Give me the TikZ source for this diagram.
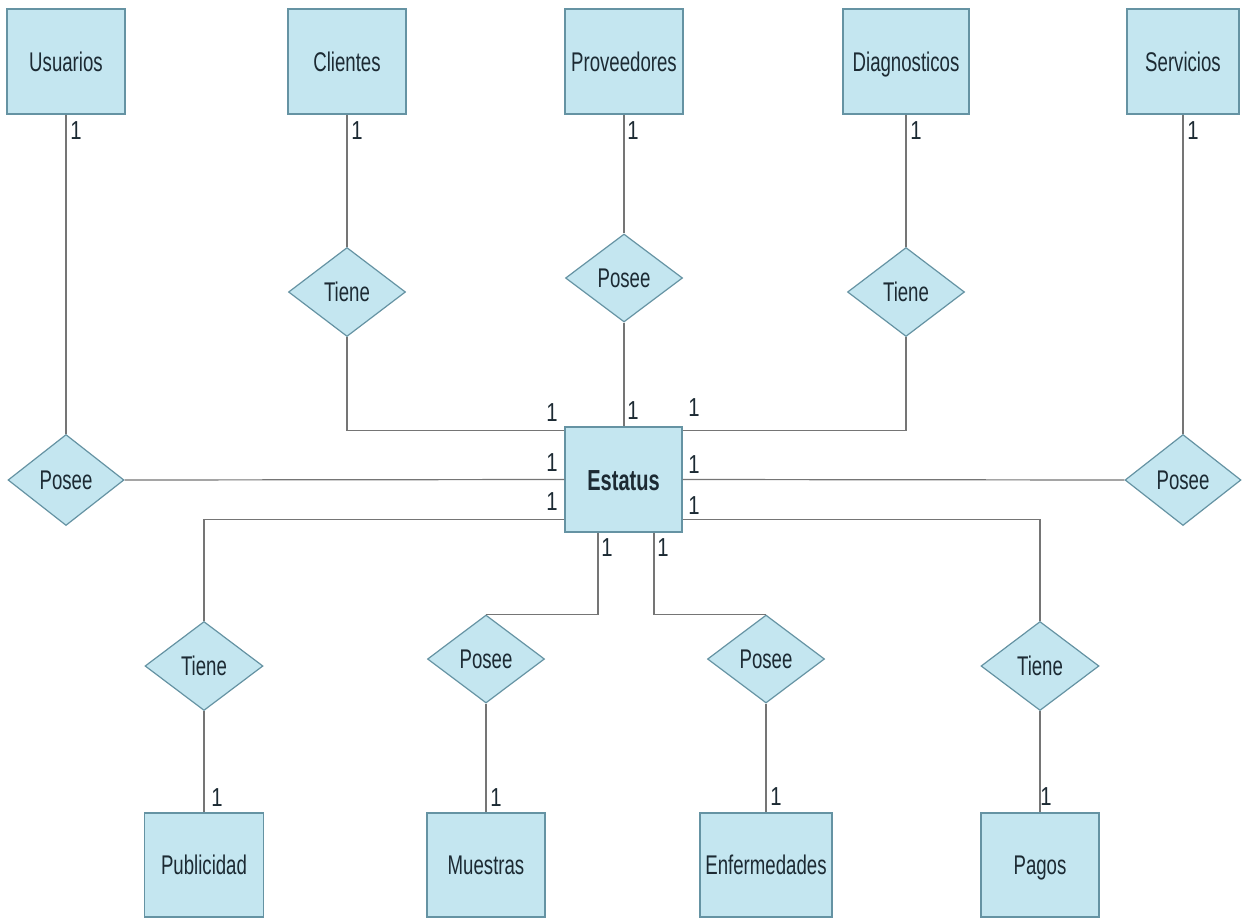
\documentclass[tikz,border=0pt]{standalone}
\usepackage{fontspec}
\setmainfont[FakeStretch=0.69]{Liberation Sans}
\newfontfamily\cardfont[FakeStretch=0.78]{Liberation Sans}
\usetikzlibrary{shapes.geometric}
\definecolor{boxfill}{HTML}{C4E6F0}
\definecolor{boxline}{HTML}{6593A3}
\definecolor{linkgray}{HTML}{757575}
\definecolor{inkdark}{HTML}{1C2A33}
\tikzset{
  entity/.style={draw=boxline, fill=boxfill, line width=1.2pt, rectangle,
    minimum height=105pt, inner sep=0pt, text=inkdark,
    text height=19.5pt, text depth=0pt,
    font=\fontsize{27}{32}\selectfont},
  relation/.style={draw=boxline, fill=boxfill, line width=1.2pt, diamond,
    minimum width=117pt, minimum height=89pt, inner sep=0pt, text=inkdark,
    text height=19.5pt, text depth=0pt,
    font=\fontsize{27}{32}\selectfont},
  link/.style={draw=linkgray, line width=1.2pt},
  card/.style={inner sep=0pt, text=inkdark, font=\cardfont\fontsize{26}{30}\selectfont}
}
\begin{document}
\begin{tikzpicture}[x=1pt, y=-1pt]
\useasboundingbox[fill=white] (0,0) rectangle (1247,918);

% entities along the top
\node[entity, minimum width=118pt] (usu) at (66,61.5) {Usuarios};
\node[entity, minimum width=118pt] (cli) at (347,61.5) {Clientes};
\node[entity, minimum width=118pt] (pro) at (624,61.5) {Proveedores};
\node[entity, minimum width=126pt] (dia) at (906,61.5) {Diagnosticos};
\node[entity, minimum width=112pt] (ser) at (1183,61.5) {Servicios};

% central entity
\node[entity, minimum width=117pt, text height=21pt,
      font=\fontsize{29}{34}\selectfont\bfseries] (est) at (623.5,479.5) {Estatus};

% relations
\node[relation] (tcli) at (347,292) {Tiene};
\node[relation, minimum height=88pt] (ppro) at (624,278) {Posee};
\node[relation] (tdia) at (906,292) {Tiene};
\node[relation, minimum width=116pt, minimum height=91pt] (posL) at (66,480) {Posee};
\node[relation, minimum width=116pt, minimum height=91pt] (posR) at (1183,480) {Posee};
\node[relation, minimum width=118pt] (tpub) at (204,666) {Tiene};
\node[relation, minimum height=88pt] (pmue) at (486,659) {Posee};
\node[relation, minimum height=88pt] (penf) at (766,659) {Posee};
\node[relation, minimum width=118pt] (tpag) at (1040,666) {Tiene};

% entities along the bottom
\node[entity, minimum width=119pt, minimum height=104pt] (pub) at (204,865) {Publicidad};
\node[entity, minimum width=118pt, minimum height=104pt] (mue) at (486,865) {Muestras};
\node[entity, minimum width=132pt, minimum height=104pt] (enf) at (766,865) {Enfermedades};
\node[entity, minimum width=118pt, minimum height=104pt] (pag) at (1040,865) {Pagos};

% connectors
\draw[link] (usu.south) -- (posL.north);
\draw[link] (cli.south) -- (tcli.north);
\draw[link] (pro.south) -- (ppro.north);
\draw[link] (dia.south) -- (tdia.north);
\draw[link] (ser.south) -- (posR.north);

\draw[link] (tcli.south) |- ([yshift=-4pt]est.north west);
\draw[link] (ppro.south) -- (ppro.south |- est.north);
\draw[link] (tdia.south) |- ([yshift=-4pt]est.north east);
\draw[link] (posL.east) -- (est.west);
\draw[link] (est.east) -- (posR.west);
\draw[link] ([yshift=13pt]est.south west) -| (tpub.north);
\draw[link] ([yshift=13pt]est.south east) -| (tpag.north);
\draw[link] ([xshift=-25.5pt]est.south) |- (pmue.north);
\draw[link] ([xshift=30.5pt]est.south) |- (penf.north);

\draw[link] (tpub.south) -- (pub.north);
\draw[link] (pmue.south) -- (mue.north);
\draw[link] (penf.south) -- (enf.north);
\draw[link] (tpag.south) -- (pag.north);

% cardinalities
\node[card] (c1) at (76,131) {1};
\node[card] (c2) at (357,131) {1};
\node[card] (c3) at (633,131) {1};
\node[card] (c4) at (916,131) {1};
\node[card] (c5) at (1193,131) {1};

\node[card] (c6) at (552,413) {1};
\node[card] (c7) at (633,411) {1};
\node[card] (c8) at (694,408) {1};
\node[card] (c9) at (552,463) {1};
\node[card] (c10) at (694,465) {1};
\node[card] (c11) at (552,502) {1};
\node[card] (c12) at (694,506) {1};
\node[card] (c13) at (607,548) {1};
\node[card] (c14) at (663,548) {1};

\node[card] (c15) at (217,798) {1};
\node[card] (c16) at (496,798) {1};
\node[card] (c17) at (776,797) {1};
\node[card] (c18) at (1046,797) {1};
\end{tikzpicture}
\end{document}
